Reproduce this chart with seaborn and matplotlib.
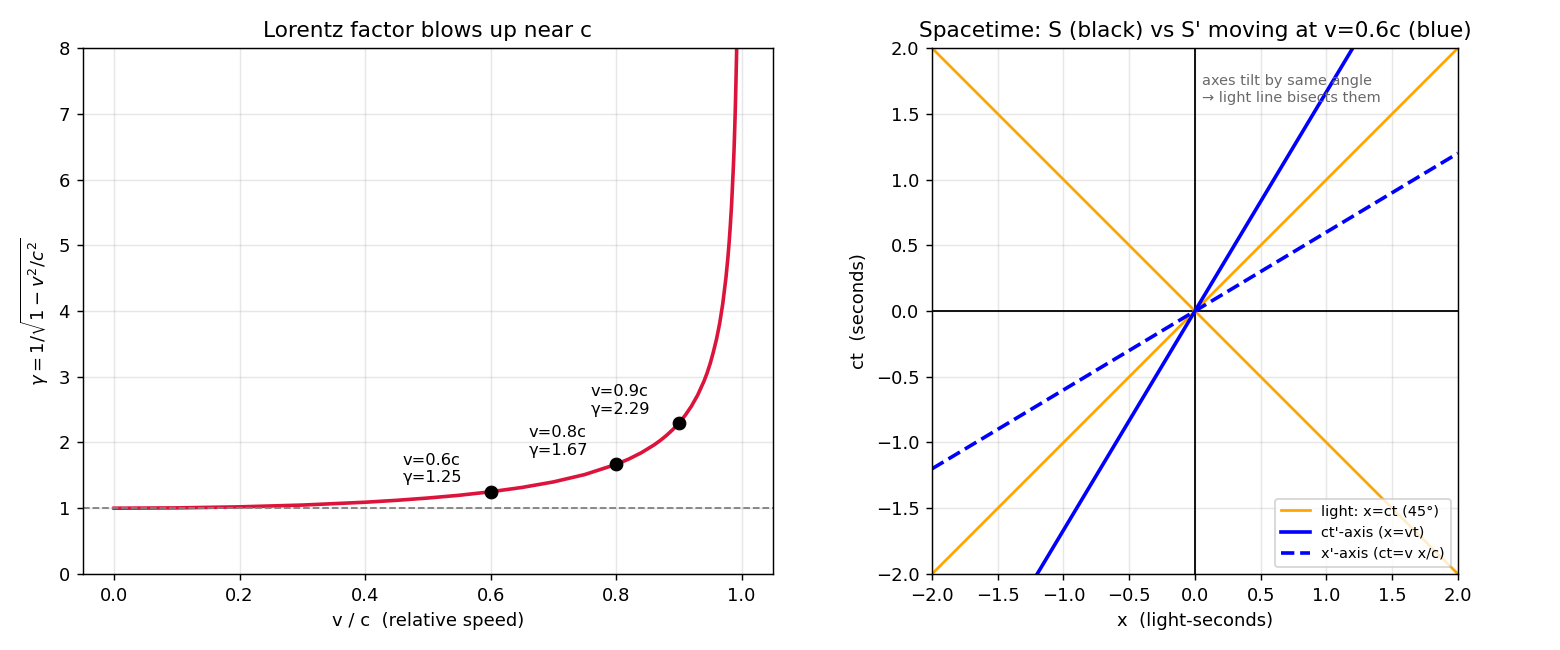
import numpy as np
import pandas as pd
import matplotlib
matplotlib.use("Agg")
import matplotlib.pyplot as plt
import seaborn as sns

# gamma curve
speed = [0.0, 0.1, 0.2, 0.3, 0.4, 0.45, 0.5, 0.55, 0.6, 0.65, 0.7, 0.75, 0.8,
         0.82, 0.84, 0.86, 0.87, 0.88, 0.89, 0.9, 0.91, 0.92, 0.93, 0.94,
         0.945, 0.95, 0.955, 0.96, 0.965, 0.97, 0.975, 0.978, 0.98, 0.982,
         0.984, 0.986, 0.987, 0.988, 0.989, 0.99, 0.991, 0.992, 0.995]
gamma = [1.000, 1.005, 1.021, 1.048, 1.091, 1.120, 1.155, 1.197, 1.250, 1.316,
         1.400, 1.512, 1.667, 1.747, 1.843, 1.960, 2.028, 2.105, 2.193, 2.294,
         2.412, 2.552, 2.721, 2.931, 3.056, 3.203, 3.377, 3.571, 3.809, 4.113,
         4.502, 4.795, 5.025, 5.299, 5.612, 6.014, 6.222, 6.468, 6.758, 7.089,
         7.486, 7.921, 10.01]

# marked speeds
mark_v = [0.6, 0.8, 0.9]
mark_g = [1.25, 1.67, 2.29]

# spacetime lines (endpoints)
light_x = [-2.0, 2.0]
light_ct = [-2.0, 2.0]
light2_x = [-2.0, 2.0]
light2_ct = [2.0, -2.0]
ctp_x = [-1.2, 1.2]
ctp_ct = [-2.0, 2.0]
xp_x = [-2.0, 2.0]
xp_ct = [-1.2, 1.2]

fig = plt.figure(figsize=(12, 5), dpi=130)
ax1 = fig.add_axes([0.053, 0.117, 0.4425, 0.809])
ax2 = fig.add_axes([0.597, 0.117, 0.338, 0.809])

# left panel
df = pd.DataFrame({"v": speed, "g": gamma})
sns.lineplot(data=df, x="v", y="g", ax=ax1, color="crimson", linewidth=2, sort=False)
ax1.axhline(1, color="gray", linestyle="--", linewidth=1)
sns.scatterplot(x=mark_v, y=mark_g, ax=ax1, color="black", s=50, zorder=5, edgecolor="black")
for v, g in zip(mark_v, mark_g):
    ax1.text(v - 0.14, g + 0.1, f"v={v}c\nγ={g:.2f}", fontsize=9, va="bottom")
ax1.set_xlim(-0.05, 1.05)
ax1.set_ylim(0, 8)
ax1.grid(True, alpha=0.3)
ax1.set_xlabel("v / c  (relative speed)")
ax1.set_ylabel(r"$\gamma = 1/\sqrt{1 - v^2/c^2}$")
ax1.set_title("Lorentz factor blows up near c")

# right panel
ax2.axhline(0, color="black", linewidth=1)
ax2.axvline(0, color="black", linewidth=1)
sns.lineplot(x=light_x, y=light_ct, ax=ax2, color="orange", linewidth=1.5,
             label="light: x=ct (45°)", sort=False)
sns.lineplot(x=light2_x, y=light2_ct, ax=ax2, color="orange", linewidth=1.5, sort=False)
sns.lineplot(x=ctp_x, y=ctp_ct, ax=ax2, color="blue", linewidth=2,
             label="ct'-axis (x=vt)", sort=False)
sns.lineplot(x=xp_x, y=xp_ct, ax=ax2, color="blue", linewidth=2, linestyle="--",
             label="x'-axis (ct=v x/c)", sort=False)
ax2.set_xlim(-2, 2)
ax2.set_ylim(-2, 2)
ax2.set_aspect("equal")
ax2.set_xticks(np.arange(-2, 2.01, 0.5))
ax2.set_yticks(np.arange(-2, 2.01, 0.5))
ax2.grid(True, alpha=0.3)
ax2.set_xlabel("x  (light-seconds)")
ax2.set_ylabel("ct  (seconds)")
ax2.set_title("Spacetime: S (black) vs S' moving at v=0.6c (blue)")
ax2.text(0.05, 1.8, "axes tilt by same angle\n→ light line bisects them",
         fontsize=8, color="dimgray", va="top")
ax2.legend(loc="lower right", fontsize=8)

fig.savefig("out.png", dpi=130)
